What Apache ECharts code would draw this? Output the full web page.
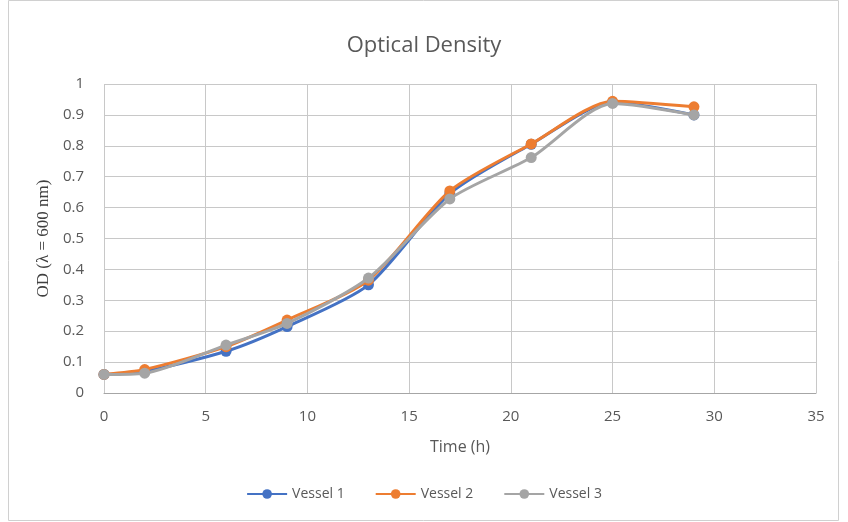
<!DOCTYPE html>
<html><head><meta charset="utf-8">
<script src="https://cdn.jsdelivr.net/npm/echarts@6/dist/echarts.min.js"></script>
<style>html,body{margin:0;padding:0;background:#fff}#c{width:848px;height:522px}</style>
</head><body><div id="c"></div>
<script>
const timeH = [0, 2, 6, 9, 13, 17, 21, 25, 29];
const vessel1 = [0.06, 0.07, 0.135, 0.215, 0.35, 0.645, 0.805, 0.94, 0.90];
const vessel2 = [0.06, 0.076, 0.15, 0.236, 0.365, 0.654, 0.806, 0.944, 0.926];
const vessel3 = [0.06, 0.064, 0.155, 0.225, 0.372, 0.628, 0.762, 0.937, 0.90];
const names = ['Vessel 1', 'Vessel 2', 'Vessel 3'];
const colors = ['#4472C4', '#ED7D31', '#A5A5A5'];
const font = '"Open Sans", "Liberation Sans", sans-serif';
const pairs = v => timeH.map((t, i) => [t, v[i]]);
const chart = echarts.init(document.getElementById('c'));
chart.setOption({
  animation: false,
  backgroundColor: '#fff',
  title: { text: 'Optical Density', left: 'center', top: 30,
    textStyle: { fontFamily: font, fontSize: 22, fontWeight: 'normal', color: '#595959' } },
  graphic: [{ type: 'rect', shape: { x: 8.5, y: 0.5, width: 830, height: 520 },
    style: { fill: 'none', stroke: '#d0d0d0', lineWidth: 1 } }],
  legend: { bottom: 16, left: 'center', itemGap: 30, itemWidth: 40, itemHeight: 12,
    textStyle: { fontFamily: font, fontSize: 14, color: '#595959' },
    data: names },
  grid: { left: 104, right: 32, top: 84, bottom: 129 },
  xAxis: { type: 'value', min: 0, max: 35, interval: 5,
    name: 'Time (h)', nameLocation: 'middle', nameGap: 46,
    nameTextStyle: { fontFamily: font, fontSize: 16, color: '#595959' },
    axisLine: { show: true, lineStyle: { color: '#a6a6a6' } }, axisTick: { show: false },
    axisLabel: { fontFamily: font, fontSize: 15, color: '#595959', margin: 16 },
    splitLine: { show: true, lineStyle: { color: '#c8c8c8', width: 1 } } },
  yAxis: { type: 'value', min: 0, max: 1, interval: 0.1,
    name: 'OD (λ = 600 nm)', nameLocation: 'middle', nameGap: 52,
    nameTextStyle: { fontFamily: '"Liberation Serif", serif', fontSize: 17, color: '#404040' },
    axisLine: { show: false }, axisTick: { show: false },
    axisLabel: { fontFamily: font, fontSize: 15, color: '#595959', margin: 20,
      formatter: v => String(Math.round(v * 10) / 10) },
    splitLine: { show: true, lineStyle: { color: '#c8c8c8', width: 1 } } },
  series: [vessel1, vessel2, vessel3].map((v, i) => ({
    name: names[i], type: 'line', smooth: 0.25, data: pairs(v),
    symbol: 'circle', symbolSize: 11, z: 3 + i,
    lineStyle: { color: colors[i], width: 3 },
    itemStyle: { color: colors[i] } }))
});
</script></body></html>
